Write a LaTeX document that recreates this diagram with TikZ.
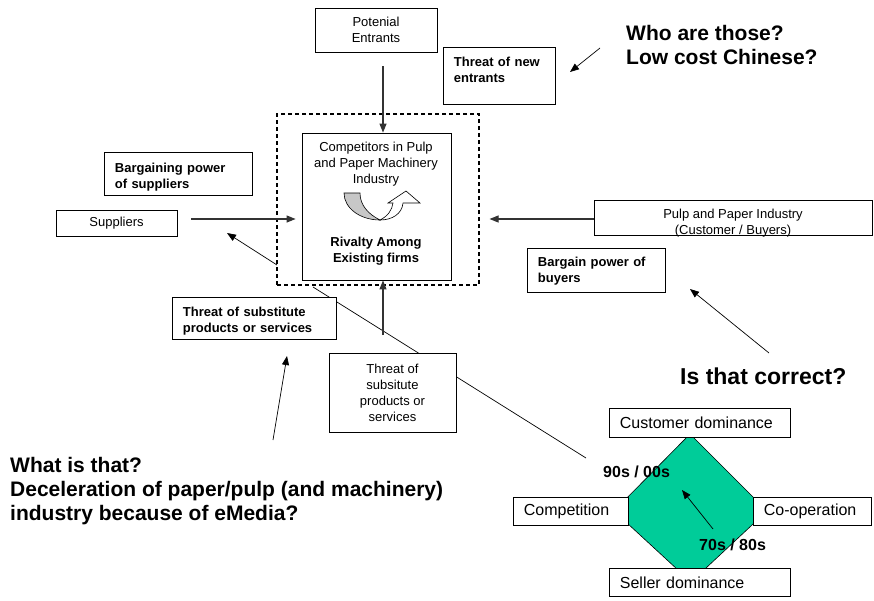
\documentclass[tikz,border=0pt]{standalone}
\usepackage{fontspec}
\setmainfont{Liberation Sans}
\usetikzlibrary{arrows.meta}

\definecolor{mint}{RGB}{0,204,153}

\tikzset{
  box/.style={draw, fill=white, line width=0.8pt, inner sep=0pt, font=\fontsize{13}{16}\selectfont},
  note/.style={box, font=\fontsize{13}{16}\selectfont\bfseries, align=left, inner xsep=10.5pt, anchor=north west},
  era/.style={box, font=\fontsize{16}{19}\selectfont, align=left, inner xsep=10.5pt, minimum height=28pt},
  ask/.style={font=\fontsize{21}{24}\selectfont\bfseries, align=left, anchor=west, inner sep=0pt},
  arr/.style={-{Triangle[length=9pt,width=7pt]}, line width=1.1pt, draw=black!80},
  ptr/.style={-{Triangle[length=9pt,width=7pt]}, line width=0.7pt},
}

\begin{document}
\begin{tikzpicture}[x=1pt,y=-1pt]
    \useasboundingbox (0,0) rectangle (874,600);

    % five forces around the industry
    \node[draw, dashed, dash pattern=on 4pt off 3pt, line width=1.1pt, inner sep=0pt,
          minimum width=202pt, minimum height=171pt] (rivalry) at (378,199.5) {};

    \coordinate (lk) at (313,287);
    \coordinate (lkend) at (586,458);
    \draw[line width=0.7pt] (lk) -- (lkend);

    \node[box, minimum width=149pt, minimum height=147pt] (industry) at (376.5,206.5) {};
    \node[font=\fontsize{13}{16}\selectfont, align=center] (industrytxt) at (376,164)
        {Competitors in Pulp\\and Paper Machinery\\Industry};
    \node[font=\fontsize{13}{16}\selectfont\bfseries, align=center] (rivaltxt) at (376,251)
        {Rivalty Among\\Existing firms};

    % turning arrow
    \filldraw[fill=black!22, line width=0.6pt] (344,193) -- (360,193)
        .. controls (360,205) and (368,214) .. (380,220)
        .. controls (360,220) and (344,208) .. (344,193) -- cycle;
    \filldraw[fill=white, line width=0.6pt] (380,220)
        .. controls (388,216) and (392,210) .. (393,203) -- (388,203) -- (406,191)
        -- (420,203) -- (403,203)
        .. controls (402,214) and (392,220) .. (380,220) -- cycle;

    \node[box, minimum width=122pt, minimum height=44pt, align=center] (entrants) at (376,30) {Potenial\\Entrants};
    \node[note, text width=91pt, text height=19.5pt, text depth=37.5pt] (newthreat) at (443,47) {Threat of new\\entrants};
    \node[note, text width=127pt, text height=19.6pt, text depth=23.4pt] (supplierpower) at (104,152) {Bargaining power\\of suppliers};
    \node[box, minimum width=121pt, minimum height=26pt] (suppliers) at (116.5,223) {Suppliers};
    \node[box, minimum width=278.5pt, minimum height=35pt] (buyers) at (733.25,217.5) {};
    \node[font=\fontsize{13}{16}\selectfont, align=center] (buyerstxt) at (733,223) {Pulp and Paper Industry\\(Customer / Buyers)};
    \node[note, text width=117pt, text height=18pt, text depth=26pt] (buyerpower) at (527,248) {Bargain power of\\buyers};
    \node[note, text width=143pt, text height=18.6pt, text depth=23.4pt] (subthreat) at (172,297) {Threat of substitute\\products or services};
    \node[box, minimum width=127pt, minimum height=79pt, align=center] (substitutes) at (392.5,392.5) {Threat of\\subsitute\\products or\\services};

    \coordinate (pe) at (383,66);
    \draw[arr] (pe) -- (pe |- industry.north);
    \coordinate (sl) at (191,219);
    \draw[arr] (sl) -- ([xshift=-6pt]sl -| industry.west);
    \draw[arr] (buyers.west |- sl) -- ([xshift=10pt]sl -| rivalry.east);
    \coordinate (su) at (383,335);
    \draw[arr] (su) -- (su |- industry.south);

    \coordinate (rl) at (277,265);
    \coordinate (sp) at (227,233);
    \draw[ptr] (rl) -- (sp);

    % questions
    \coordinate (w1) at (600,48);
    \coordinate (w2) at (570,72);
    \draw[ptr] (w1) -- (w2);
    \coordinate (c1) at (769,353);
    \coordinate (c2) at (690,289);
    \draw[ptr] (c1) -- (c2);
    \coordinate (q1) at (273,440);
    \coordinate (q2) at (287,356);
    \draw[ptr] (q1) -- (q2);

    \node[ask] (who) at (626,45) {Who are those?\\Low cost Chinese?};
    \node[ask, font=\fontsize{23}{26}\selectfont\bfseries] (correct) at (680,376) {Is that correct?};
    \node[ask] (whatis) at (10,491) {What is that?\\Deceleration of paper/pulp (and machinery)\\industry because of eMedia?};

    % market relationship diamond
    \filldraw[fill=mint, line width=0.6pt] (690,434) -- (767,511) -- (691,582) -- (614,511) -- cycle;
    \node[era, text width=160pt, minimum height=29pt, anchor=north west] (customer) at (609,408) {Customer dominance};
    \node[era, text width=160pt, anchor=north west] (seller) at (609,568) {Seller dominance};
    \node[era, text width=94pt, anchor=north west] (competition) at (513,497) {Competition};
    \node[era, text width=97pt, anchor=north west] (cooperation) at (753,497) {Co-operation};

    \coordinate (e1) at (713,529);
    \coordinate (e2) at (682,490);
    \draw[ptr] (e1) -- (e2);
    \node[font=\fontsize{16}{19}\selectfont\bfseries, anchor=west, inner sep=0pt] (late) at (603,472) {90s / 00s};
    \node[font=\fontsize{16}{19}\selectfont\bfseries, anchor=west, inner sep=0pt] (early) at (699,545) {70s / 80s};
\end{tikzpicture}
\end{document}
